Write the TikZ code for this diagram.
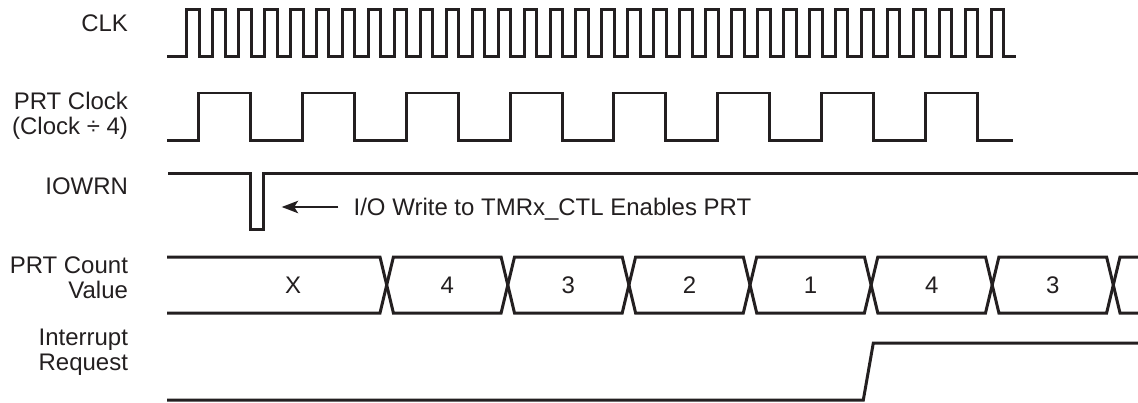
\documentclass[tikz,border=0pt]{standalone}
\usepackage{fontspec}
\setmainfont{Liberation Sans}
\usetikzlibrary{arrows.meta}
\definecolor{ink}{RGB}{35,31,32}

\begin{document}
\begin{tikzpicture}[x=0.02cm, y=-0.02cm,
    wave/.style={draw=ink, line width=0.06cm, line join=miter},
    signame/.style={anchor=east, align=right, inner sep=0pt, text=ink,
      font=\fontsize{13.65}{14.5}\selectfont},
    value/.style={inner sep=0pt, text=ink, font=\fontsize{13.65}{14.5}\selectfont},
    pointer/.style={draw=ink, line width=0.034cm,
      -{Stealth[length=0.33cm, width=0.25cm, inset=0.08cm]}}]
  \useasboundingbox (0,0) rectangle (1138,402);

  \node[signame] (clk) at (128.3,23.7) {CLK};
  \node[signame] (prt) at (128.3,116) {PRT Clock\\(Clock ÷ 4)};
  \node[signame] (iowrn) at (128.3,186) {IOWRN};
  \node[signame] (count) at (128.3,278) {PRT Count\\Value};
  \node[signame] (irq) at (128.3,352) {Interrupt\\Request};

  % CLK
  \draw[wave] (167,57) \foreach \k in {0,...,31}{
      -| ({186.7+25.95*\k},10) -| ({199.2+25.95*\k},57) } -- (1016,57);
  % PRT clock, CLK / 4
  \draw[wave] (167,140) \foreach \j in {0,...,7}{
      -| ({198.7+103.8*\j},93) -| ({250.6+103.8*\j},140) } -- (1013,140);
  % IOWRN
  \draw[wave] (168,173) -- (250,173) -- (250,229) -- (263.5,229)
    -- (263.5,173) -- (1138,173);
  \node[value, anchor=base west] (note) at (353.3,215.8)
    {I/O Write to TMRx\_CTL Enables PRT};
  \coordinate (strobe) at (281.7,207);
  \draw[pointer, shorten <=0.3cm] (note.west |- strobe) -- (strobe);
  % PRT count bus
  \draw[wave] (167,257) -- (380,257) -- (393.4,313) -- (501.1,313)
    -- (514.5,257) -- (622.2,257) -- (635.6,313) -- (743.3,313)
    -- (756.7,257) -- (864.4,257) -- (877.8,313) -- (985.5,313)
    -- (998.9,257) -- (1106.6,257) -- (1120,313) -- (1138,313);
  \draw[wave] (167,313) -- (380,313) -- (393.4,257) -- (501.1,257)
    -- (514.5,313) -- (622.2,313) -- (635.6,257) -- (743.3,257)
    -- (756.7,313) -- (864.4,313) -- (877.8,257) -- (985.5,257)
    -- (998.9,313) -- (1106.6,313) -- (1120,257) -- (1138,257);
  \node[value] (vx) at (293,285) {X};
  \node[value] (v4a) at (447.3,285) {4};
  \node[value] (v3a) at (568.4,285) {3};
  \node[value] (v2) at (689.5,285) {2};
  \node[value] (v1) at (810.6,285) {1};
  \node[value] (v4b) at (931.7,285) {4};
  \node[value] (v3b) at (1052.8,285) {3};
  % interrupt request
  \draw[wave] (167,400) -- (863.3,400) -- (873.3,343) -- (1138,343);
\end{tikzpicture}
\end{document}
